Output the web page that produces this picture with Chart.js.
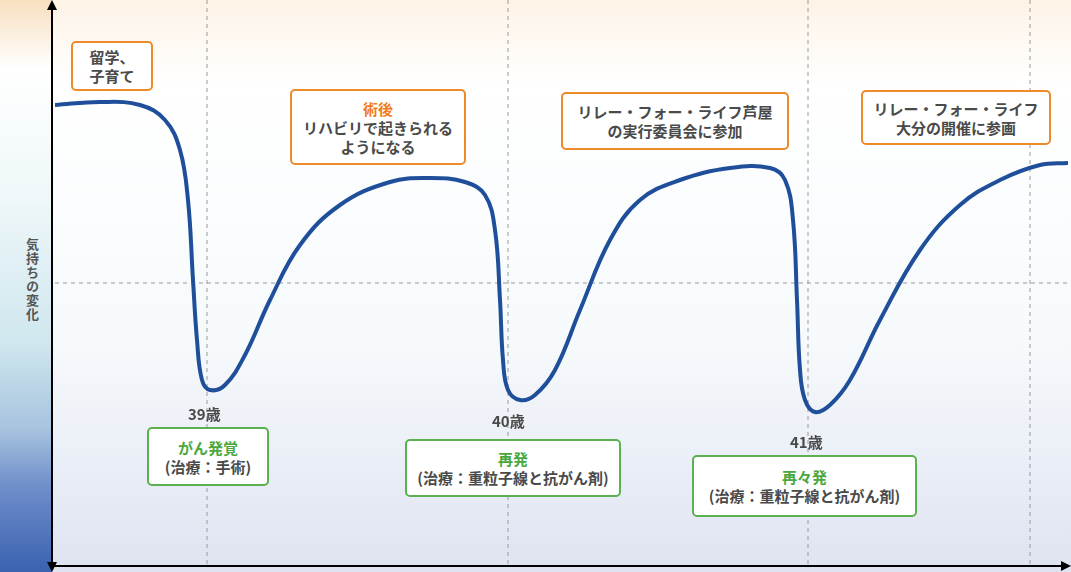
<!DOCTYPE html>
<html><head><meta charset="utf-8">
<script src="https://cdn.jsdelivr.net/npm/chart.js@4"></script>
<style>
html,body{margin:0;padding:0;width:1071px;height:572px;overflow:hidden;font-family:"Noto Sans CJK JP",sans-serif;}
body{background:linear-gradient(to bottom,#fdf3e6 0%,#ffffff 15%,#f6fafc 60%,#dfe3f1 100%);position:relative;}
#strip{position:absolute;left:0;top:0;width:52px;height:572px;background:linear-gradient(to bottom,#f8dfc0 0%,#ffffff 12%,#eef7f9 35%,#cfe7ee 60%,#a7c3df 75%,#6f8ec9 85%,#3a62b1 100%);}
#ylab{position:absolute;left:23px;top:238px;writing-mode:vertical-rl;font-size:13px;font-weight:bold;color:#555;letter-spacing:1px;}
#wrap{position:absolute;left:0;top:0;width:1071px;height:572px;}
.box{position:absolute;background:#fff;border:2px solid;border-radius:5px;text-align:center;font-weight:bold;font-size:15px;line-height:19px;color:#4a4a4a;box-sizing:border-box;display:flex;flex-direction:column;justify-content:center;}
.o{border-color:#ee8a2a;}.g{border-color:#5bb04f;}
.oh{color:#ee7d1c}.gh{color:#4aa83e}
.age{position:absolute;font-weight:bold;font-size:15px;color:#4a4a4a;}
</style></head><body>
<div id="strip"></div>
<div id="ylab">気持ちの変化</div>
<div id="wrap"><canvas id="c" width="1071" height="572"></canvas></div>
<div class="box o" style="left:71px;top:41px;width:82px;height:50px;">留学、<br>子育て</div>
<div class="box o" style="left:290px;top:89px;width:176px;height:76px;"><span class="oh">術後</span>リハビリで起きられる<br>ようになる</div>
<div class="box o" style="left:561px;top:92px;width:228px;height:58px;">リレー・フォー・ライフ芦屋<br>の実行委員会に参加</div>
<div class="box o" style="left:861px;top:90px;width:190px;height:55px;">リレー・フォー・ライフ<br>大分の開催に参画</div>
<div class="age" style="left:188px;top:403px;">39歳</div>
<div class="age" style="left:492px;top:410px;">40歳</div>
<div class="age" style="left:790px;top:431px;">41歳</div>
<div class="box g" style="left:147px;top:427px;width:122px;height:59px;"><span class="gh">がん発覚</span>(治療：手術)</div>
<div class="box g" style="left:405px;top:439px;width:216px;height:58px;"><span class="gh">再発</span>(治療：重粒子線と抗がん剤)</div>
<div class="box g" style="left:692px;top:455px;width:225px;height:62px;"><span class="gh">再々発</span>(治療：重粒子線と抗がん剤)</div>
<script>
const xs=[55,100,140,165,180,188,193,197,202,210,225,245,270,300,340,390,430,465,485,495,500,503,508,520,535,555,580,610,640,680,730,770,785,793,797,800,805,815,830,850,880,920,960,1000,1040,1068];
const ysPix=[105,102,105,120,150,200,280,340,380,390,385,355,300,245,205,182,178,182,195,230,300,360,390,400,395,370,310,240,200,180,168,168,180,220,300,370,400,412,405,380,320,250,205,180,165,163];
const mood=ysPix.map(v=>565-v);
const gridX=[207,508,808,1030];
const data=xs.map((x,i)=>({x:x,y:mood[i]}));
const axes={id:'axes',beforeDatasetsDraw(ch){const c=ch.ctx;const xs=ch.scales.x,ys=ch.scales.y;c.save();c.setLineDash([4,4]);c.strokeStyle='#999';c.lineWidth=1;
gridX.forEach(g=>{const px=xs.getPixelForValue(g);c.beginPath();c.moveTo(px,ys.top);c.lineTo(px,ys.bottom);c.stroke();});
const py=ys.getPixelForValue(565-283);c.beginPath();c.moveTo(xs.left,py);c.lineTo(xs.right,py);c.stroke();c.restore();},
afterDraw(ch){const c=ch.ctx;c.save();c.strokeStyle='#000';c.fillStyle='#000';c.lineWidth=2;
c.beginPath();c.moveTo(52,6);c.lineTo(52,566);c.stroke();c.beginPath();c.moveTo(52,566);c.lineTo(1062,566);c.stroke();
c.beginPath();c.moveTo(52,0);c.lineTo(47,10);c.lineTo(57,10);c.fill();
c.beginPath();c.moveTo(52,572);c.lineTo(47,562);c.lineTo(57,562);c.fill();
c.beginPath();c.moveTo(1071,566);c.lineTo(1061,561);c.lineTo(1061,571);c.fill();c.restore();}};
new Chart(document.getElementById('c'),{type:'line',data:{datasets:[{data:data,borderColor:'#1f4f9a',borderWidth:4,pointRadius:0,tension:0.4,fill:false}]},
options:{responsive:false,animation:false,layout:{padding:{left:55,right:3,top:0,bottom:7}},
plugins:{legend:{display:false},tooltip:{enabled:false}},
scales:{x:{type:'linear',min:55,max:1068,display:false},y:{min:0,max:565,display:false}}},plugins:[axes]});
</script></body></html>
